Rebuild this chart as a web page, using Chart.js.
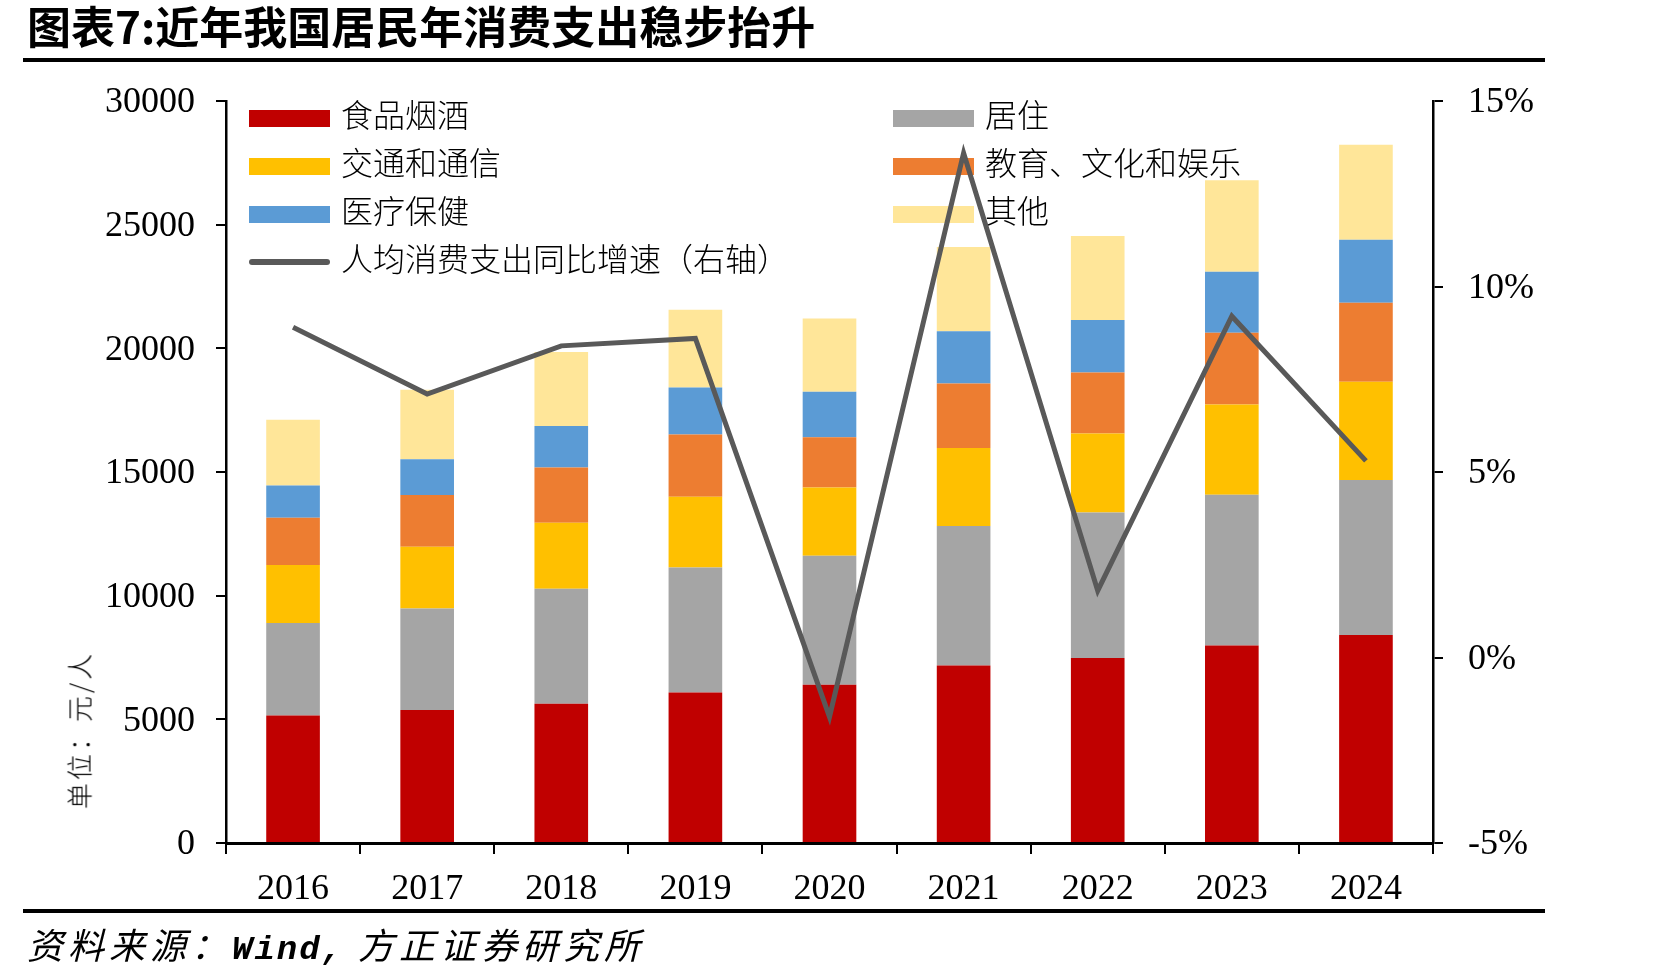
<!DOCTYPE html>
<html>
<head>
<meta charset="utf-8">
<script src="https://cdn.jsdelivr.net/npm/chart.js@4"></script>
<style>
  html, body { margin: 0; padding: 0; background: #fff; }
  #wrap { position: relative; width: 1671px; height: 980px; overflow: hidden; }
  #chart { position: absolute; left: 0; top: 0; }
  .title {
    position: absolute; left: 27px; top: -7px; line-height: 44px;
    font: 700 44px "Noto Sans CJK SC", sans-serif; color: #000; white-space: nowrap;
  }
  .rule { position: absolute; left: 23px; width: 1522px; height: 4px; background: #000; }
  .unit {
    position: absolute; left: 78px; top: 730px; transform: translate(-50%, -50%) rotate(-90deg);
    font: 300 26px "Noto Sans CJK SC", sans-serif; letter-spacing: 3px; color: #000; white-space: nowrap;
  }
  .source {
    position: absolute; left: 27px; top: 917px; line-height: 40px;
    font: italic 400 36px "Noto Sans CJK SC", sans-serif; letter-spacing: 5px; color: #000; white-space: nowrap;
  }
  .source .w { font: italic 700 34px "Liberation Mono", monospace; letter-spacing: 2px; margin-right: 14px; }
</style>
</head>
<body>
<div id="wrap">
  <canvas id="chart" width="1671" height="980"></canvas>
  <div class="title">图表7:近年我国居民年消费支出稳步抬升</div>
  <div class="rule" style="top:58px"></div>
  <div class="rule" style="top:909px"></div>
  <div class="unit">单位：元/人</div>
  <div class="source">资料来源：<span class="w">Wind,</span>方正证券研究所</div>
</div>
<script>
// 人均消费支出（元/人）
const years = ["2016", "2017", "2018", "2019", "2020", "2021", "2022", "2023", "2024"];
const food = [5151, 5374, 5631, 6084, 6397, 7178, 7481, 7983, 8411];
const housing = [3746, 4107, 4647, 5055, 5215, 5641, 5882, 6095, 6263];
const transport = [2338, 2499, 2675, 2862, 2762, 3156, 3195, 3652, 3976];
const education = [1915, 2086, 2226, 2513, 2032, 2599, 2469, 2904, 3189];
const medical = [1307, 1451, 1685, 1902, 1843, 2115, 2120, 2460, 2547];
const other = [2654, 2806, 2989, 3143, 2961, 3411, 3391, 3702, 3841];
// 同比增速（%）
const growth = [8.9, 7.1, 8.4, 8.6, -1.6, 13.6, 1.8, 9.2, 5.3];

const serif = '"Liberation Serif", "Times New Roman", serif';
const legendFont = '300 32px "Liberation Serif", "Noto Sans CJK SC", serif';

function bar(label, data, color) {
  return { type: "bar", label, data, backgroundColor: color, yAxisID: "y", stack: "s", order: 1 };
}

// legend in two columns inside the plot, like the original
const legendPlugin = {
  id: "colLegend",
  beforeDatasetsDraw(chart) {
    const ctx = chart.ctx;
    const colX = [249, 893];
    const rowY = [118, 166, 214, 262];
    ctx.save();
    ctx.font = legendFont;
    ctx.textBaseline = "middle";
    chart.data.datasets.forEach((ds, i) => {
      const col = i < 6 ? i % 2 : 0;
      const row = i < 6 ? Math.floor(i / 2) : 3;
      const x = colX[col], y = rowY[row];
      if (ds.type === "line") {
        ctx.strokeStyle = ds.borderColor;
        ctx.lineWidth = 6;
        ctx.lineCap = "round";
        ctx.beginPath();
        ctx.moveTo(x + 3, y);
        ctx.lineTo(x + 78, y);
        ctx.stroke();
      } else {
        ctx.fillStyle = ds.backgroundColor;
        ctx.fillRect(x, y - 8, 81, 17);
      }
      ctx.fillStyle = "#000";
      ctx.fillText(ds.label, x + 92, y + 1);
    });
    ctx.restore();
  }
};

new Chart(document.getElementById("chart"), {
  data: {
    labels: years,
    datasets: [
      bar("食品烟酒", food, "#C00000"),
      bar("居住", housing, "#A5A5A5"),
      bar("交通和通信", transport, "#FFC000"),
      bar("教育、文化和娱乐", education, "#ED7D31"),
      bar("医疗保健", medical, "#5B9BD5"),
      bar("其他", other, "#FFE699"),
      {
        type: "line", label: "人均消费支出同比增速（右轴）", data: growth,
        borderColor: "#595959", borderWidth: 5, pointRadius: 0, tension: 0,
        yAxisID: "y1", order: 0
      }
    ]
  },
  options: {
    responsive: false,
    animation: false,
    layout: { padding: { top: 101, left: 0, right: 0, bottom: 0 } },
    datasets: { bar: { categoryPercentage: 1, barPercentage: 0.4 } },
    plugins: { legend: { display: false }, tooltip: { enabled: false } },
    scales: {
      x: {
        stacked: true,
        afterFit(s) { s.height = 137; },
        grid: { offset: true, drawOnChartArea: false, tickLength: 11, color: "#000", lineWidth: 2 },
        border: { color: "#000", width: 3 },
        ticks: { color: "#000", padding: 14, font: { family: serif, size: 36 } }
      },
      y: {
        position: "left", stacked: true, min: 0, max: 30000,
        afterFit(s) { s.width = 226; },
        grid: { drawOnChartArea: false, tickLength: 10, color: "#000", lineWidth: 2 },
        border: { color: "#000", width: 2.5 },
        ticks: { stepSize: 5000, color: "#000", padding: 21, labelOffset: 2,
          font: { family: serif, size: 36 }, callback: (v) => String(v) }
      },
      y1: {
        position: "right", min: -5, max: 15,
        afterFit(s) { s.width = 238; },
        grid: { drawOnChartArea: false, tickLength: 10, color: "#000", lineWidth: 2 },
        border: { color: "#000", width: 2.5 },
        ticks: { stepSize: 5, color: "#000", padding: 25, labelOffset: 2,
          font: { family: serif, size: 36 }, callback: (v) => v + "%" }
      }
    }
  },
  plugins: [legendPlugin]
});
</script>
</body>
</html>
